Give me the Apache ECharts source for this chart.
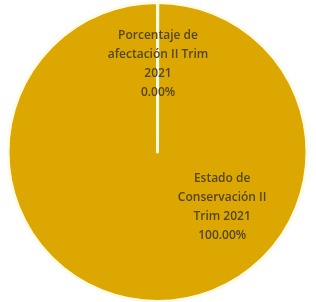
<!DOCTYPE html>
<html>
<head>
<meta charset="utf-8">
<script src="https://cdn.jsdelivr.net/npm/echarts@6/dist/echarts.min.js"></script>
<style>
  html, body { margin: 0; padding: 0; background: #fff; }
  #chart { width: 316px; height: 302px; }
</style>
</head>
<body>
<div id="chart"></div>
<script>
// pie data
var categories = ['Porcentaje de\nafectación II Trim\n2021', 'Estado de\nConservación II\nTrim 2021'];
var values = [0, 100];

var chart = echarts.init(document.getElementById('chart'));

var labelSpots = [['50%', '21.2%'], ['70.3%', '68.7%']];

var option = {
    animation: false,
    series: [{
        type: 'pie',
        center: ['157.5', '152'],
        radius: 149.5,
        startAngle: 90,
        clockwise: true,
        minAngle: 0.1,
        data: categories.map(function (c, i) {
            return {name: c, value: values[i]};
        }),
        itemStyle: {color: '#dca700', borderColor: '#fffbe6', borderWidth: 3},
        label: {
            show: true,
            position: 'inside',
            color: '#54461c',
            fontFamily: 'Open Sans',
            fontWeight: 600,
            fontSize: 12,
            lineHeight: 19,
            align: 'center',
            formatter: function (p) {
                return p.name + '\n' + p.percent.toFixed(2) + '%';
            }
        },
        labelLine: {show: false},
        labelLayout: function (params) {
            var s = labelSpots[params.dataIndex];
            return {x: s[0], y: s[1], align: 'center', verticalAlign: 'middle'};
        },
        emphasis: {disabled: true}
    }]
};
chart.setOption(option);
</script>
</body>
</html>
